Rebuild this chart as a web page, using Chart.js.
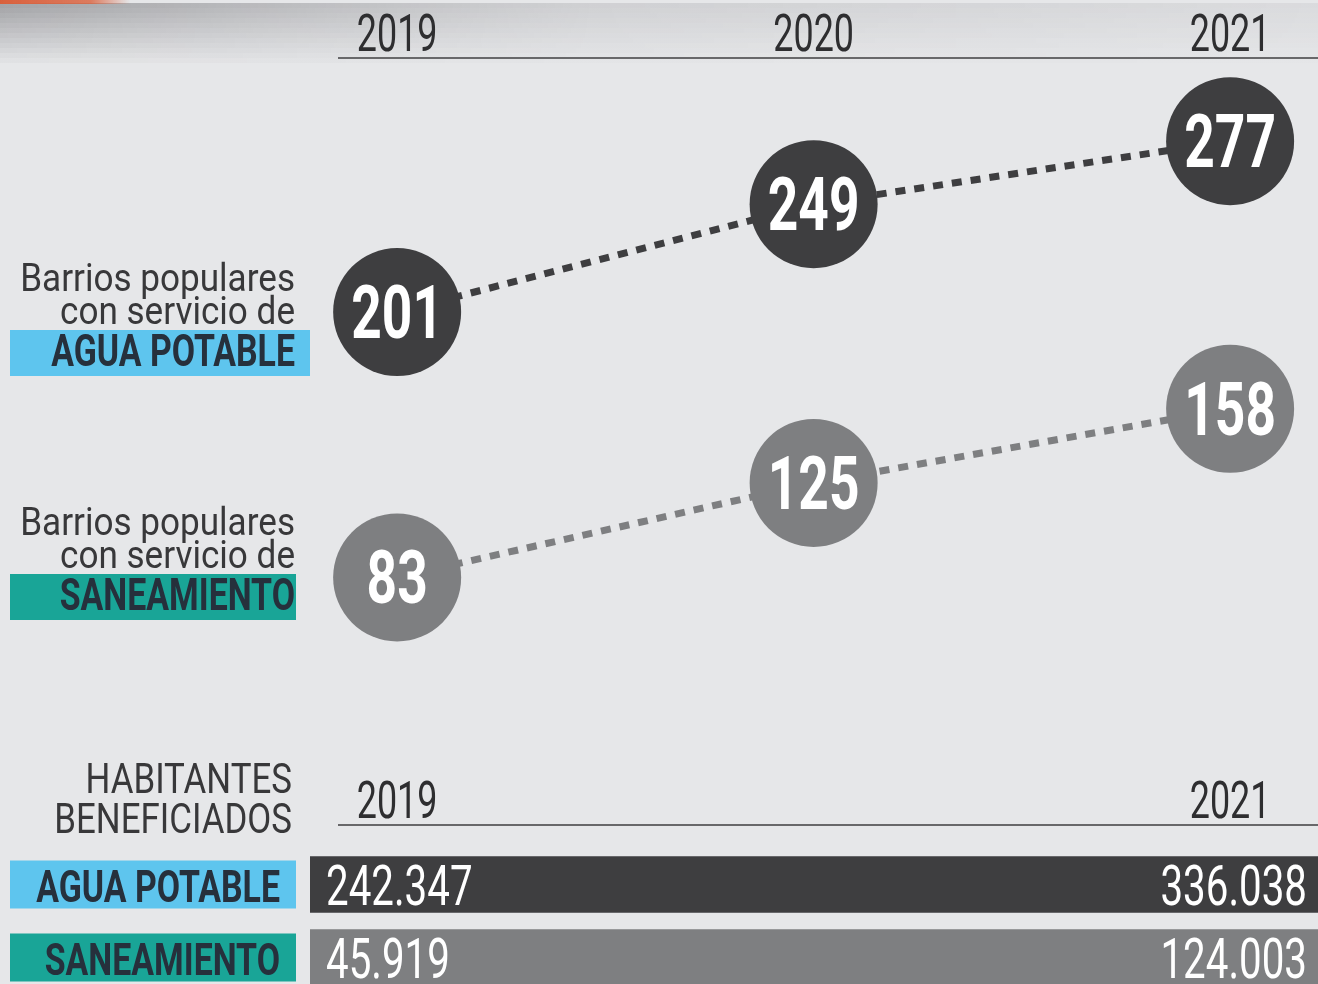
<!DOCTYPE html>
<html>
<head>
<meta charset="utf-8">
<script src="https://cdn.jsdelivr.net/npm/chart.js@4.4.1/dist/chart.umd.min.js"></script>
<style>
  html, body { margin: 0; padding: 0; background: #e6e7e9; overflow: hidden; }
  #wrap { position: relative; width: 1318px; height: 984px; }
  #barrios { position: absolute; left: 0; top: 0; }
  #habitantes { position: absolute; left: 0; top: 740px; }
</style>
</head>
<body>
<div id="wrap">
  <canvas id="barrios" width="1318" height="764"></canvas>
  <canvas id="habitantes" width="1318" height="254"></canvas>
</div>
<script>
// Datos: barrios populares con servicio
const years = [2019, 2020, 2021];
const aguaBarrios = [201, 249, 277];
const saneamientoBarrios = [83, 125, 158];

// Datos: habitantes beneficiados
const habYears = [2019, 2021];
const habCategorias = ['AGUA POTABLE', 'SANEAMIENTO'];
const aguaHabitantes = [242347, 336038];
const saneamientoHabitantes = [45919, 124003];

// Colores
const DARK = '#3e3e40';
const GREY = '#7e7f81';
const BLUE = '#5ec5ee';
const TEAL = '#19a597';
const TEXT = '#38383a';
const LABEL_TEXT = '#26303c';

// Texto condensado: Roboto comprimido en horizontal
function drawText(ctx, text, x, y, opt) {
  ctx.save();
  ctx.font = (opt.weight || 'normal') + ' ' + opt.size + 'px Roboto, "Liberation Sans", sans-serif';
  ctx.fillStyle = opt.color || TEXT;
  ctx.textAlign = opt.align || 'left';
  ctx.textBaseline = 'alphabetic';
  ctx.translate(x, y);
  ctx.scale(opt.sx || 1, 1);
  ctx.fillText(text, 0, 0);
  ctx.restore();
}

function fmt(n) {
  return String(n).replace(/\B(?=(\d{3})+(?!\d))/g, '.');
}

// Bloque de etiqueta izquierda (dos lineas + recuadro de color)
function drawSideLabel(ctx, top, boxW, boxColor, strong) {
  drawText(ctx, 'Barrios populares', 295, top, { size: 39, sx: 0.9, align: 'right' });
  drawText(ctx, 'con servicio de', 295, top + 33, { size: 39, sx: 0.9, align: 'right' });
  ctx.fillStyle = boxColor;
  ctx.fillRect(10, top + 39, boxW, 46);
  drawText(ctx, strong, 295, top + 75, { size: 44, sx: 0.77, weight: 'bold', color: LABEL_TEXT, align: 'right' });
}

// Plugin del grafico de barrios
const barriosDecor = {
  id: 'barriosDecor',
  beforeDraw(chart) {
    const ctx = chart.ctx;
    // franja gris degradada arriba a la izquierda
    for (let i = 0; i < 12; i++) {
      const g = ctx.createLinearGradient(0, 0, 1318, 0);
      const a = 0.55 * (1 - i / 12);
      g.addColorStop(0, 'rgba(110,110,114,' + a + ')');
      g.addColorStop(0.45, 'rgba(150,150,154,' + (a * 0.5) + ')');
      g.addColorStop(1, 'rgba(170,170,174,' + (a * 0.35) + ')');
      ctx.fillStyle = g;
      ctx.fillRect(0, 3 + i * 5, 1318, 5);
    }
    const og = ctx.createLinearGradient(0, 0, 130, 0);
    og.addColorStop(0, '#d9603c');
    og.addColorStop(0.7, 'rgba(217,96,60,0.8)');
    og.addColorStop(1, 'rgba(217,96,60,0)');
    ctx.fillStyle = og;
    ctx.fillRect(0, 0, 130, 4);
  },
  afterDatasetsDraw(chart) {
    const ctx = chart.ctx;
    const xs = chart.scales.x;
    const area = chart.chartArea;

    // eje superior con años
    ctx.save();
    ctx.strokeStyle = '#68686a';
    ctx.lineWidth = 2;
    ctx.beginPath();
    ctx.moveTo(area.left, area.top);
    ctx.lineTo(area.right, area.top);
    ctx.stroke();
    ctx.restore();
    years.forEach(y => {
      drawText(ctx, String(y), xs.getPixelForValue(y), 51, { size: 52, sx: 0.69, align: 'center', color: '#2e2e30' });
    });

    // valores dentro de los circulos
    chart.data.datasets.forEach((ds, di) => {
      chart.getDatasetMeta(di).data.forEach((pt, i) => {
        drawText(ctx, String(ds.data[i].y), pt.x, pt.y + 26, { size: 74, sx: 0.72, weight: 'bold', color: '#ffffff', align: 'center' });
      });
    });

    // etiquetas izquierdas
    drawSideLabel(ctx, 291, 300, BLUE, 'AGUA POTABLE');
    drawSideLabel(ctx, 535, 286, TEAL, 'SANEAMIENTO');
  }
};

function serie(values) {
  return years.map((y, i) => ({ x: y, y: values[i] }));
}

function lineDataset(label, values, color) {
  return {
    label: label,
    data: serie(values),
    borderColor: color,
    borderWidth: 7,
    borderDash: [10, 9],
    borderCapStyle: 'butt',
    pointRadius: 64,
    pointHoverRadius: 64,
    pointBackgroundColor: color,
    pointBorderWidth: 0,
    tension: 0,
    clip: false
  };
}

new Chart(document.getElementById('barrios'), {
  type: 'line',
  data: {
    datasets: [
      lineDataset('Agua potable', aguaBarrios, DARK),
      lineDataset('Saneamiento', saneamientoBarrios, GREY)
    ]
  },
  options: {
    responsive: false,
    animation: false,
    events: [],
    layout: { autoPadding: false, padding: { left: 338, right: 0, top: 58, bottom: 0 } },
    plugins: { legend: { display: false }, tooltip: { enabled: false } },
    scales: {
      x: { type: 'linear', min: 2018.858, max: 2021.211, display: false },
      y: { type: 'linear', min: 0, max: 314, display: false }
    }
  },
  plugins: [barriosDecor]
});

// Plugin del grafico de habitantes
const habDecor = {
  id: 'habDecor',
  afterDatasetsDraw(chart) {
    const ctx = chart.ctx;
    const xs = chart.scales.x;
    const ys = chart.scales.y;

    drawText(ctx, 'HABITANTES', 292, 53, { size: 42, sx: 0.83, align: 'right' });
    drawText(ctx, 'BENEFICIADOS', 292, 93, { size: 42, sx: 0.83, align: 'right' });

    ctx.save();
    ctx.strokeStyle = '#68686a';
    ctx.lineWidth = 2;
    ctx.beginPath();
    ctx.moveTo(338, 85);
    ctx.lineTo(chart.chartArea.right, 85);
    ctx.stroke();
    ctx.restore();
    habYears.forEach(y => {
      drawText(ctx, String(y), xs.getPixelForValue(y), 78, { size: 52, sx: 0.69, align: 'center', color: '#2e2e30' });
    });

    const valores = [aguaHabitantes, saneamientoHabitantes];
    const cajas = [BLUE, TEAL];
    chart.getDatasetMeta(0).data.forEach((bar, i) => {
      const v = valores[i];
      const left = Math.min(bar.base, bar.x);
      const right = Math.max(bar.base, bar.x);
      drawText(ctx, fmt(v[0]), left + 16, bar.y + 20, { size: 56, sx: 0.72, color: '#ffffff' });
      drawText(ctx, fmt(v[v.length - 1]), right - 11, bar.y + 20, { size: 56, sx: 0.72, color: '#ffffff', align: 'right' });

      const cy = ys.getPixelForValue(i);
      ctx.fillStyle = cajas[i];
      ctx.fillRect(10, cy - 24, 286, 48);
      drawText(ctx, habCategorias[i], 280, cy + 17, { size: 44, sx: 0.77, weight: 'bold', color: LABEL_TEXT, align: 'right' });
    });
  }
};

const B_MIN = 2018.791;
const B_MAX = 2021.211;

new Chart(document.getElementById('habitantes'), {
  type: 'bar',
  data: {
    labels: habCategorias,
    datasets: [{
      data: habCategorias.map(() => [B_MIN, B_MAX]),
      backgroundColor: [DARK, GREY],
      borderWidth: 0,
      borderSkipped: false,
      barThickness: 56
    }]
  },
  options: {
    indexAxis: 'y',
    responsive: false,
    animation: false,
    events: [],
    layout: { autoPadding: false, padding: { left: 310, right: 0, top: 108, bottom: 0 } },
    plugins: { legend: { display: false }, tooltip: { enabled: false } },
    scales: {
      x: { type: 'linear', min: B_MIN, max: B_MAX, display: false },
      y: { type: 'category', display: false }
    }
  },
  plugins: [habDecor]
});
</script>
</body>
</html>
